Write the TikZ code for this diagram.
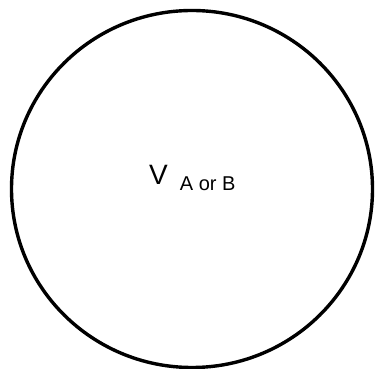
\documentclass[tikz,border=0pt]{standalone}
\usepackage{fontspec}
\setmainfont{Liberation Sans}
\begin{document}
\begin{tikzpicture}[x=1pt, y=1pt,
  ring/.style={draw, line width=3.4pt},
  lbl/.style={inner sep=0pt, font=\fontsize{28}{32}\selectfont}
]
  \useasboundingbox (0,0) rectangle (375,369);
  \draw[ring] (192,180) ellipse [x radius=180.5, y radius=178.5];
  \node[lbl, anchor=base west] (volt) at (149,184.7)
        {V\hspace{12pt}\raisebox{-6.4pt}{\fontsize{20}{24}\selectfont A or B}};
\end{tikzpicture}
\end{document}
